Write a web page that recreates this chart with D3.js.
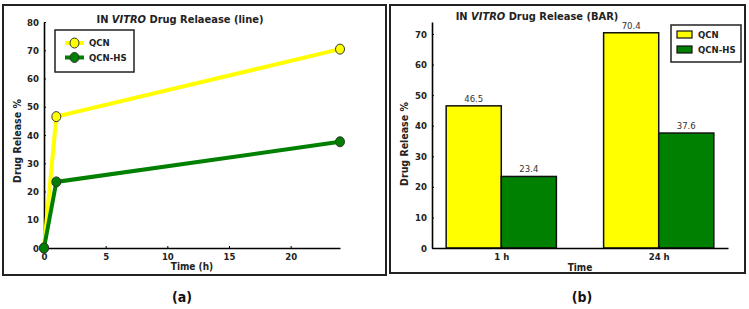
<!doctype html>
<html>
<head>
<meta charset="utf-8">
<script src="https://cdnjs.cloudflare.com/ajax/libs/d3/7.8.5/d3.min.js"></script>
<style>
  body { margin: 0; background: #fff; }
  svg text { font-family: "DejaVu Sans Condensed", "Liberation Sans Narrow", "DejaVu Sans", sans-serif; }
  .tick text { font-weight: bold; font-size: 9.5px; fill: #222; }
  .tick line { stroke: #000; }
  .domain { stroke: #000; stroke-width: 1.6px; }
</style>
</head>
<body>
<svg id="svg1" width="749" height="309"></svg>
<script>
// line chart data
var hours = [0, 1, 24];
var qcnLine = [0, 46.5, 70.4];
var qcnHsLine = [0, 23.4, 37.6];
var lineTicksX = [0, 5, 10, 15, 20];
var lineTicksY = [0, 10, 20, 30, 40, 50, 60, 70, 80];

// bar chart data
var barTimes = ["1 h", "24 h"];
var qcnBar = [46.5, 70.4];
var qcnHsBar = [23.4, 37.6];
var barTicksY = [0, 10, 20, 30, 40, 50, 60, 70];

var seriesNames = ["QCN", "QCN-HS"];
var yellow = "#ffff00", green = "#008000";

var svg = d3.select("#svg1");

// frames
svg.append("rect").attr("x", 3).attr("y", 5).attr("width", 383).attr("height", 270)
  .attr("fill", "none").attr("stroke", "#222").attr("stroke-width", 2);
svg.append("rect").attr("x", 390).attr("y", 5).attr("width", 355).attr("height", 268)
  .attr("fill", "none").attr("stroke", "#222").attr("stroke-width", 2);

// ---------- (a) line chart ----------
var x1 = d3.scaleLinear().domain([0, 24]).range([44, 340]);
var y1 = d3.scaleLinear().domain([0, 80]).range([248, 22]);

svg.append("g").attr("transform", "translate(0,248)")
  .call(d3.axisBottom(x1).tickValues(lineTicksX).tickSize(-2).tickPadding(5).tickSizeOuter(0));
svg.append("g").attr("transform", "translate(44,0)")
  .call(d3.axisLeft(y1).tickValues(lineTicksY).tickSize(-2).tickPadding(5).tickSizeOuter(0));

var lineGen = d3.line().x(d => x1(d[0])).y(d => y1(d[1]));
var lineSeries = [
  { name: seriesNames[0], color: yellow, pts: hours.map((h, i) => [h, qcnLine[i]]) },
  { name: seriesNames[1], color: green, pts: hours.map((h, i) => [h, qcnHsLine[i]]) }
];
lineSeries.forEach(s => {
  svg.append("path").attr("d", lineGen(s.pts)).attr("fill", "none")
    .attr("stroke", s.color).attr("stroke-width", 4);
  svg.selectAll(null).data(s.pts).enter().append("ellipse")
    .attr("cx", d => x1(d[0])).attr("cy", d => y1(d[1]))
    .attr("rx", 4.5).attr("ry", 5)
    .attr("fill", s.color).attr("stroke", "#333").attr("stroke-width", 1);
});

var t1 = svg.append("text").attr("x", 180).attr("y", 23).attr("text-anchor", "middle")
  .attr("font-size", 11).attr("font-weight", "bold").attr("fill", "#222");
t1.append("tspan").text("IN ");
t1.append("tspan").attr("font-style", "italic").text("VITRO");
t1.append("tspan").text("  Drug Relaease (line)");

svg.append("text").attr("transform", "translate(21,141) rotate(-90)").attr("text-anchor", "middle")
  .attr("font-size", 10.5).attr("font-weight", "bold").attr("fill", "#222").text("Drug Release %");
svg.append("text").attr("x", 192).attr("y", 270).attr("text-anchor", "middle")
  .attr("font-size", 10).attr("font-weight", "bold").attr("fill", "#222").text("Time (h)");
svg.append("text").attr("x", 182).attr("y", 302).attr("text-anchor", "middle")
  .attr("font-size", 14).attr("font-weight", "bold").attr("fill", "#111").text("(a)");

// legend a
svg.append("rect").attr("x", 55).attr("y", 30).attr("width", 79).attr("height", 42)
  .attr("fill", "#fff").attr("stroke", "#222").attr("stroke-width", 1.5);
lineSeries.forEach((s, i) => {
  var ly = 43 + i * 14.5;
  svg.append("line").attr("x1", 65).attr("x2", 84).attr("y1", ly).attr("y2", ly)
    .attr("stroke", s.color).attr("stroke-width", 4);
  svg.append("ellipse").attr("cx", 74.5).attr("cy", ly).attr("rx", 4.5).attr("ry", 5)
    .attr("fill", s.color).attr("stroke", "#333");
  svg.append("text").attr("x", 89).attr("y", ly).attr("dy", "0.35em")
    .attr("font-size", 9.5).attr("font-weight", "bold").attr("fill", "#222").text(s.name);
});

// ---------- (b) bar chart ----------
var bw = 0.35;
var x2 = d3.scaleLinear().domain([-0.44, 1.44]).range([432, 728]);
var y2 = d3.scaleLinear().domain([0, 73.92]).range([248, 22]);

var barData = [];
barTimes.forEach((t, i) => {
  barData.push({ pos: i - bw, v: qcnBar[i], color: yellow });
  barData.push({ pos: i, v: qcnHsBar[i], color: green });
});

svg.selectAll(".bar").data(barData).enter().append("rect").attr("class", "bar")
  .attr("x", d => x2(d.pos)).attr("width", d => x2(d.pos + bw) - x2(d.pos))
  .attr("y", d => y2(d.v)).attr("height", d => y2(0) - y2(d.v))
  .attr("fill", d => d.color).attr("stroke", "#111").attr("stroke-width", 1.5);

svg.selectAll(".blab").data(barData).enter().append("text").attr("class", "blab")
  .attr("x", d => x2(d.pos + bw / 2)).attr("y", d => y2(d.v) - 4)
  .attr("text-anchor", "middle").attr("font-size", 9.5).attr("fill", "#333")
  .text(d => d3.format(".1f")(d.v));

svg.append("g").attr("transform", "translate(0,248)")
  .call(d3.axisBottom(x2).tickValues([0, 1]).tickFormat((d, i) => barTimes[i])
    .tickSize(-2).tickPadding(5).tickSizeOuter(0));
svg.append("g").attr("transform", "translate(432,0)")
  .call(d3.axisLeft(y2).tickValues(barTicksY).tickSize(-2).tickPadding(5).tickSizeOuter(0));

var t2 = svg.append("text").attr("x", 537).attr("y", 20).attr("text-anchor", "middle")
  .attr("font-size", 11).attr("font-weight", "bold").attr("fill", "#222");
t2.append("tspan").text("IN ");
t2.append("tspan").attr("font-style", "italic").text("VITRO");
t2.append("tspan").text(" Drug Release (BAR)");

svg.append("text").attr("transform", "translate(408,144) rotate(-90)").attr("text-anchor", "middle")
  .attr("font-size", 10.5).attr("font-weight", "bold").attr("fill", "#222").text("Drug Release %");
svg.append("text").attr("x", 580).attr("y", 271).attr("text-anchor", "middle")
  .attr("font-size", 10).attr("font-weight", "bold").attr("fill", "#222").text("Time");
svg.append("text").attr("x", 582).attr("y", 302).attr("text-anchor", "middle")
  .attr("font-size", 14).attr("font-weight", "bold").attr("fill", "#111").text("(b)");

// legend b
svg.append("rect").attr("x", 671).attr("y", 25).attr("width", 70).attr("height", 37)
  .attr("fill", "#fff").attr("stroke", "#222").attr("stroke-width", 1.5);
[yellow, green].forEach((c, i) => {
  var ly = 34.5 + i * 15;
  svg.append("rect").attr("x", 677).attr("y", ly - 3.5).attr("width", 15).attr("height", 7)
    .attr("fill", c).attr("stroke", "#111").attr("stroke-width", 1.2);
  svg.append("text").attr("x", 698).attr("y", ly).attr("dy", "0.35em")
    .attr("font-size", 9.5).attr("font-weight", "bold").attr("fill", "#222").text(seriesNames[i]);
});
</script>
</body>
</html>
